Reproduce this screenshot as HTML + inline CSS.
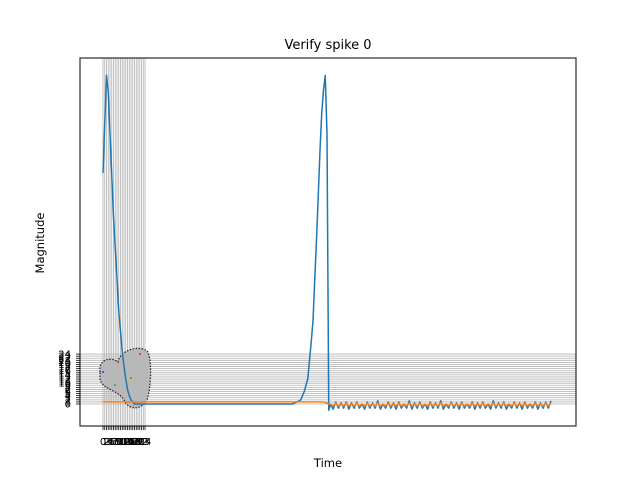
<!DOCTYPE html>
<html><head><meta charset="utf-8"><style>
body{margin:0;background:#fff;}
svg text{font-family:"DejaVu Sans","Liberation Sans",sans-serif;}
</style></head><body>
<svg width="640" height="480" viewBox="0 0 640 480">
<rect width="640" height="480" fill="#fff"/>
<text x="328" y="49" font-size="13" text-anchor="middle">Verify spike 0</text>
<text x="328" y="467" font-size="11.5" text-anchor="middle">Time</text>
<text x="44" y="243" font-size="11.5" text-anchor="middle" transform="rotate(-90 44 243)">Magnitude</text>
<g id="grid"></g>
<g id="blob">
<path d="M100,372 C98,360 110,356 118,362 C120,350 140,344 148,352 C153,365 150,395 146,402 C140,410 128,410 124,400 C118,390 104,390 100,380 Z" fill="#b8b8b8" stroke="#222" stroke-width="1.2" stroke-dasharray="1.5 1.5"/>
<circle cx="103" cy="372" r="1" fill="#33f"/><circle cx="133" cy="383" r="1" fill="#cc3"/><circle cx="140" cy="354" r="1" fill="#c33"/><circle cx="131" cy="378" r="1" fill="#3a3"/><circle cx="115" cy="385" r="1" fill="#3a3"/>
</g>
<g id="ticks"></g>
<g id="series"></g>
<rect x="80" y="58" width="496" height="368" fill="none" stroke="#000" stroke-width="1"/>
</svg>
<script>
const xTicks = [0,1,2,3,4,5,6,7,8,9,10,11,12,13,14,15,16,17,18,19,20,21,22,23,24];
const yTicks = [0,1,2,3,4,5,6,7,8,9,10,11,12,13,14,15,16,17,18,19,20,21,22,23,24];
const blueT = [0,1,2,3,4,5,6,7,8,9,10,11,12,13,14,15,16,17,18,108,111,113,115,117,118,119,120,121,122,123,124,125,126,127,128,129];
const blueV = [111,135,158,150,130,110,90,75,60,45,35,25,18,12,7,4,2,1,0,0,1,2,6,12,21,30,40,60,79,100,122,140,151,158,130,-3];
const osc = [0,-2.5,1,-2,0.5,-2,1,-2.5,0.5,-2,1,-2,0,-2.5,1,-2,0.5,-2,1.5,-2.5,0,-2,1,-2,0.5,-2.5,1,-2,0,-2,1.5,-2.5,0.5,-2,1,-2,0,-2.5,1,-2,0.5,-2,1.5,-2.5,0,-2,1,-2,0.5,-2.5,1,-2,0,-2,1,-2.5,0.5,-2,1,-2,0,-2.5,1.5,-2,0.5,-2,1,-2.5,0,-2,1,-2,0.5,-2.5,1,-2,0,-2,1,-2.5,0.5,-2,1,-2,1.5];
const orangeT = [0,126,129];
const orangeV = [1,1,0];
const oscOrange = [0,-1,0.5,-1,0,-1,0.5,-1,0,-1,0.5,-1,0,-1,0.5,-1,0,-1,0.5,-1,0,-1,0.5,-1,0,-1,0.5,-1,0,-1,0.5,-1,0,-1,0.5,-1,0,-1,0.5,-1,0,-1,0.5,-1,0,-1,0.5,-1,0,-1,0.5,-1,0,-1,0.5,-1,0,-1,0.5,-1,0,-1,0.5,-1,0,-1,0.5,-1,0,-1,0.5,-1,0,-1,0.5,-1,0,-1,0.5,-1,0,-1,0.5,-1,0.5];
const NS='http://www.w3.org/2000/svg';
const X = t => 103 + t*1.75;
const Y = v => 404 - v*2.08;
function mk(tag, attrs, parent){const e=document.createElementNS(NS,tag);for(const k in attrs)e.setAttribute(k,attrs[k]);parent.appendChild(e);return e;}
const grid=document.getElementById('grid'), ticks=document.getElementById('ticks'), series=document.getElementById('series');
xTicks.forEach(t=>{
  const l=mk('line',{x1:X(t),x2:X(t),y1:58,y2:426,stroke:'#b0b0b0','stroke-width':0.8},grid);
  
  
  const k=mk('line',{x1:X(t),x2:X(t),y1:426,y2:430,stroke:'#000','stroke-width':0.8},ticks);
  
  
  const tx=mk('text',{x:X(t),y:445,'font-size':10,'text-anchor':'middle'},ticks);
  tx.textContent=t;
  
  
});
yTicks.forEach(v=>{
  const l=mk('line',{x1:80,x2:576,y1:Y(v),y2:Y(v),stroke:'#b0b0b0','stroke-width':0.8},grid);
  
  
  const k=mk('line',{x1:76,x2:80,y1:Y(v),y2:Y(v),stroke:'#000','stroke-width':0.8},ticks);
  
  
  const tx=mk('text',{x:71,y:Y(v)+3.5,'font-size':10,'text-anchor':'end'},ticks);
  tx.textContent=v;
  
  
});
const step=1.5;
let bp=blueT.map((t,i)=>[X(t),Y(blueV[i])]);
osc.forEach((v,i)=>bp.push([X(130+i*step),Y(v)]));
let op=orangeT.map((t,i)=>[X(t),Y(orangeV[i])]);
oscOrange.forEach((v,i)=>op.push([X(130+i*step),Y(v)]));
const b=mk('polyline',{points:bp.map(p=>p.join(',')).join(' '),fill:'none',stroke:'#1f77b4','stroke-width':1.5,'stroke-linejoin':'round'},series);


const o=mk('polyline',{points:op.map(p=>p.join(',')).join(' '),fill:'none',stroke:'#ff7f0e','stroke-width':1.5,'stroke-linejoin':'round'},series);


</script>
</body></html>
